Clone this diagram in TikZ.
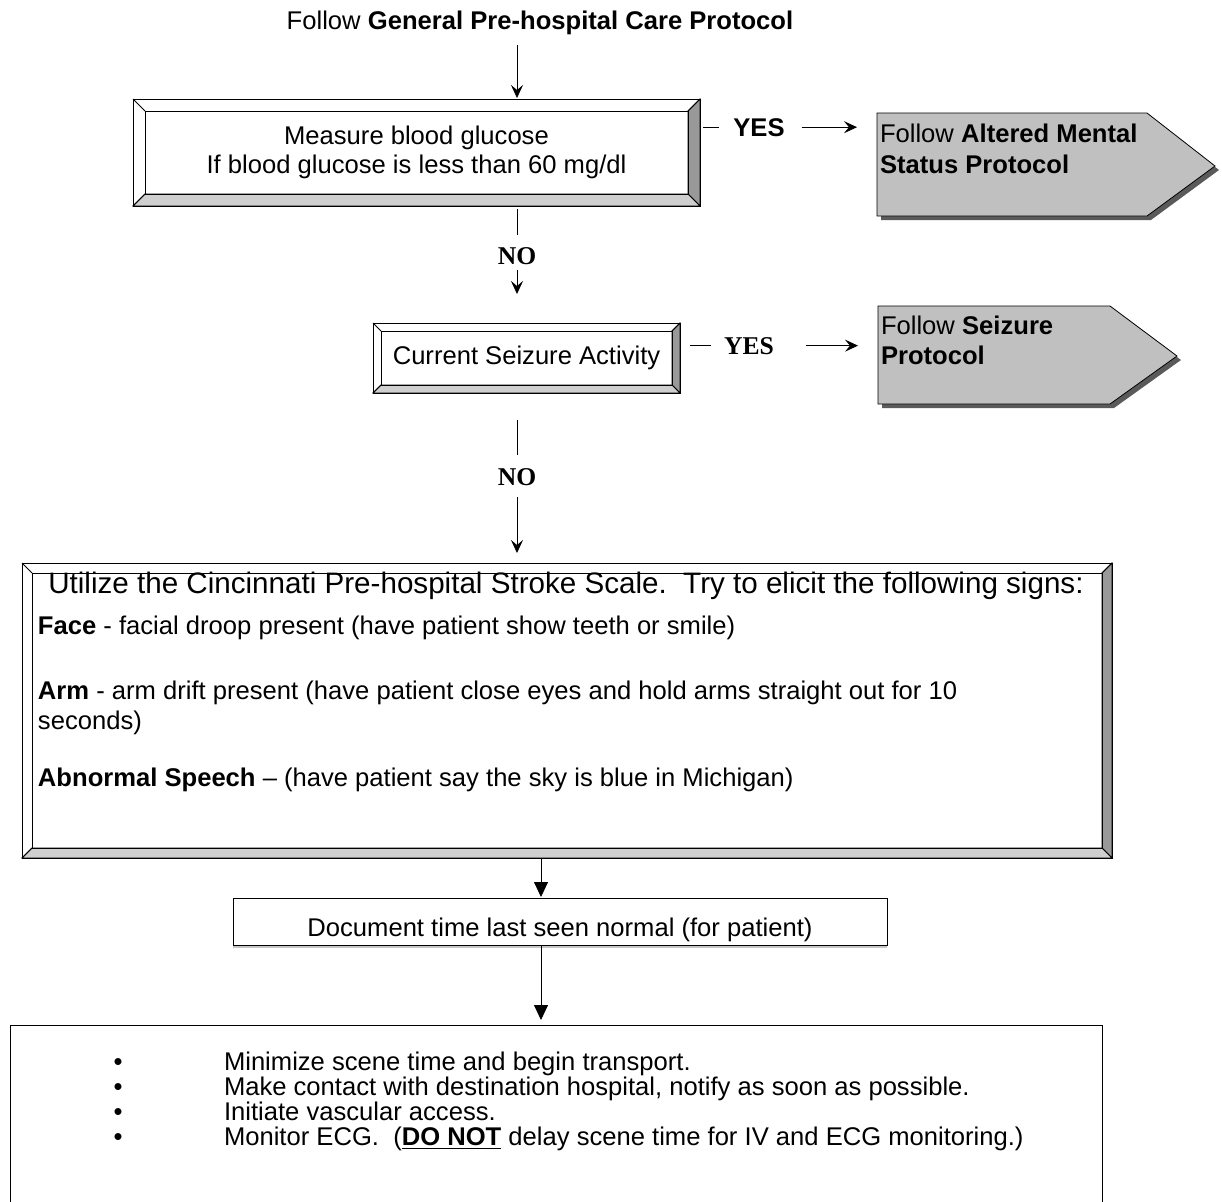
\documentclass[tikz,border=0pt]{standalone}
\usepackage{fontspec}
\setmainfont{Liberation Sans}
\newfontfamily\tmsfont{Liberation Serif}
\usetikzlibrary{arrows.meta,backgrounds,calc}
\definecolor{bevdark}{HTML}{999999}
\definecolor{bevlight}{HTML}{CFCFCF}
\definecolor{pentfill}{HTML}{C0C0C0}
\definecolor{shadowc}{HTML}{5A5A5A}
\newcommand\bevelfr[2]{%
 \begin{pgfonlayer}{background}
 \fill[white] (#1.north west) rectangle (#1.south east);
 \filldraw[fill=bevdark] (#1.north east) -- (#1.south east) -- ([shift={(-#2,#2)}]#1.south east) -- ([shift={(-#2,-#2)}]#1.north east) -- cycle;
 \filldraw[fill=bevlight] (#1.south west) -- (#1.south east) -- ([shift={(-#2,#2)}]#1.south east) -- ([shift={(#2,#2)}]#1.south west) -- cycle;
 \draw (#1.north west) rectangle (#1.south east);
 \draw ([shift={(#2,-#2)}]#1.north west) rectangle ([shift={(-#2,#2)}]#1.south east);
 \draw (#1.north west) -- ([shift={(#2,-#2)}]#1.north west);
 \draw (#1.north east) -- ([shift={(-#2,-#2)}]#1.north east);
 \draw (#1.south west) -- ([shift={(#2,#2)}]#1.south west);
 \end{pgfonlayer}}
\begin{document}
\begin{tikzpicture}[x=0.5pt,y=-0.5pt, line width=0.9pt,
 every node/.style={inner sep=0pt, outer sep=0pt, font=\fontsize{12.8pt}{14.5pt}\selectfont},
 frame/.style={rectangle, align=center},
 txt/.style={anchor=base},
 ltxt/.style={anchor=base west},
 tmsbold/.style={font={\tmsfont\bfseries\fontsize{12.8pt}{14pt}\selectfont}},
 smallhead/.style={-{Stealth[length=6.5pt,width=6pt,inset=2.5pt]}},
 bighead/.style={-{Triangle[length=7.5pt,width=7pt]}},
 pent/.style={fill=pentfill, draw=black},
 pshadow/.style={fill=shadowc, draw=none}]
\useasboundingbox (0,0) rectangle (1222,1201);

\coordinate (cx) at (517,0);
\coordinate (ax) at (541,0);

% title
\node[txt] (title) at (540,29) {Follow \textbf{General Pre-hospital Care Protocol}};

% box 1
\node[frame, minimum width=283.5pt, minimum height=53.5pt] (b1) at (416.5,152.5)
 {Measure blood glucose\\If blood glucose is less than 60 mg/dl};
\bevelfr{b1}{6pt}

% pentagon 1
\fill[pshadow, shift={(2pt,-2pt)}] (877,113) -- (1147,113) -- (1215,166) -- (1147,216) -- (877,216) -- cycle;
\draw[pent] (877,113) -- (1147,113) -- (1215,166) -- (1147,216) -- (877,216) -- cycle;
\node[ltxt] (p1a) at (880,142) {Follow \textbf{Altered Mental}};
\node[ltxt] (p1b) at (880,173) {\textbf{Status Protocol}};
\coordinate (p1w) at (877,127);

\node[txt] (yes1) at (759,136) {\textbf{YES}};
\draw[shorten <=1.5pt, shorten >=7pt] (b1.east |- yes1.west) -- (yes1.west);
\draw[smallhead, shorten <=8.5pt, shorten >=10pt] (yes1.east) -- (p1w |- yes1.east);

\draw[smallhead, shorten <=5.5pt, shorten >=0.5pt] (title.south -| cx) -- (b1.north -| cx);

% NO 1
\node[txt, tmsbold] (no1) at (517,264) {NO};
\draw[shorten <=1.5pt, shorten >=6pt] (b1.south -| no1) -- (no1.north);

% box 2
\node[frame, minimum width=153.5pt, minimum height=35pt] (b2) at (526.5,358) {Current Seizure Activity};
\bevelfr{b2}{4pt}
\draw[smallhead, shorten <=3pt, shorten >=14.5pt] (no1.south) -- (b2.north -| no1);

% pentagon 2
\fill[pshadow, shift={(2pt,-2pt)}] (878,306) -- (1110,306) -- (1177,356) -- (1110,404) -- (878,404) -- cycle;
\draw[pent] (878,306) -- (1110,306) -- (1177,356) -- (1110,404) -- (878,404) -- cycle;
\node[ltxt] (p2a) at (881,334) {Follow \textbf{Seizure}};
\node[ltxt] (p2b) at (881,364) {\textbf{Protocol}};
\coordinate (p2w) at (878,348);

\node[txt, tmsbold] (yes2) at (749,354) {YES};
\draw[shorten <=5pt, shorten >=6.5pt] (b2.east |- yes2.west) -- (yes2.west);
\draw[smallhead, shorten <=16pt, shorten >=10pt] (yes2.east) -- (p2w |- yes2.east);

% NO 2
\node[txt, tmsbold] (no2) at (517,485) {NO};
\draw[shorten <=13.5pt, shorten >=6.5pt] (b2.south -| no2) -- (no2.north);

% big box
\node[frame, minimum width=545pt, minimum height=147.5pt] (bb) at (567,710.5) {};
\bevelfr{bb}{5pt}
\draw[smallhead, shorten <=6pt, shorten >=5pt] (no2.south) -- (bb.north -| no2);

\node[txt, font=\fontsize{14.8pt}{16pt}\selectfont] (s1) at (566,593) {Utilize the Cincinnati Pre-hospital Stroke Scale.\ \ Try to elicit the following signs:};
\node[ltxt] (s2) at (38,634) {\textbf{Face} - facial droop present (have patient show teeth or smile)};
\node[ltxt] (s3) at (38,699) {\textbf{Arm} - arm drift present (have patient close eyes and hold arms straight out for 10};
\node[ltxt] (s4) at (38,729) {seconds)};
\node[ltxt] (s5) at (38,786) {\textbf{Abnormal Speech} – (have patient say the sky is blue in Michigan)};

% box 3
\node[draw, minimum width=327pt, minimum height=23.5pt] (b3) at (560,921.5) {};
\draw[gray!45, line width=1pt] ([yshift=-1.2pt]b3.south west) -- ([yshift=-1.2pt]b3.south east);
\node[txt] (b3t) at (560,936) {Document time last seen normal (for patient)};
\draw[bighead, shorten >=0.5pt] (bb.south -| ax) -- (b3.north -| ax);

% box 4
\node[draw, anchor=north west, minimum width=546pt, minimum height=93pt] (b4) at (10,1025) {};
\draw[bighead, shorten >=2.5pt] (b3.south -| ax) -- (b4.north -| ax);

\node[txt] (u1) at (118,1070) {\textbullet};
\node[txt] (u2) at (118,1095) {\textbullet};
\node[txt] (u3) at (118,1120) {\textbullet};
\node[txt] (u4) at (118,1145) {\textbullet};
\node[ltxt] (t1) at (224,1070) {Minimize scene time and begin transport.};
\node[ltxt] (t2) at (224,1095) {Make contact with destination hospital, notify as soon as possible.};
\node[ltxt] (t3) at (224,1120) {Initiate vascular access.};
\node[ltxt] (t4) at (224,1145) {Monitor ECG.\ \ (\underline{\textbf{DO NOT}} delay scene time for IV and ECG monitoring.)};
\end{tikzpicture}
\end{document}
